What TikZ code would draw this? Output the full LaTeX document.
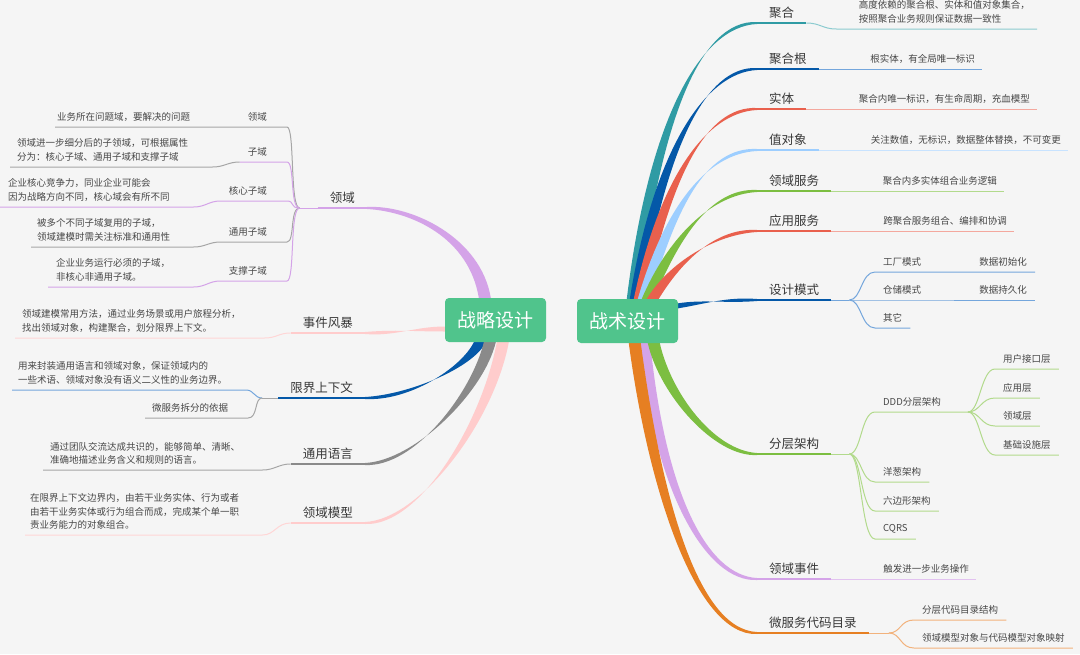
\documentclass[tikz,border=0pt]{standalone}
\usepackage{fontspec}
\newfontfamily\cjk{Noto Sans CJK SC}
\usetikzlibrary{calc}
\pgfdeclarelayer{bg}
\pgfdeclarelayer{branch}
\pgfsetlayers{bg,branch,main}

\definecolor{bgc}{HTML}{F5F5F5}
\definecolor{boxg}{HTML}{50C48C}
\definecolor{labc}{HTML}{383838}
\definecolor{descc}{HTML}{474747}
\definecolor{cTeal}{HTML}{2F9BA4}\definecolor{cTealL}{HTML}{8CCBD0}
\definecolor{cBlue}{HTML}{0458A8}\definecolor{cBlueL}{HTML}{74A6DC}
\definecolor{cRed}{HTML}{E9604D}\definecolor{cRedL}{HTML}{F4A89E}
\definecolor{cLBlue}{HTML}{9DCEFF}\definecolor{cLBlueL}{HTML}{C8E3FF}
\definecolor{cGreen}{HTML}{7CBE41}\definecolor{cGreenL}{HTML}{B2DA8C}
\definecolor{cPurple}{HTML}{D4A3E8}\definecolor{cPurpleL}{HTML}{E2C2F0}
\definecolor{cPink}{HTML}{FFCCCC}\definecolor{cPinkL}{HTML}{FFD6D6}
\definecolor{cGray}{HTML}{8A8A8A}\definecolor{cGrayL}{HTML}{A6A6A6}
\definecolor{cOrange}{HTML}{E67F22}\definecolor{cOrangeL}{HTML}{F2B27C}

% tapered branch: colour, start, c1 (rel. start), c2 (rel. end), end, half-width vector
\newcommand\taper[6]{%
  \fill[#1] ($(#2)+#6$) .. controls +#3 and ($(#5)+#4+(0,-3.5)$) .. ($(#5)+(0,-1)$) --
     ($(#5)+(0,1)$) .. controls ($(#5)+#4+(0,3.5)$) and +#3 .. ($(#2)-#6$) -- cycle;}

\tikzset{
  hub/.style={fill=boxg, rounded corners=4pt, minimum width=101pt, minimum height=44pt,
    text=white, font=\cjk\fontsize{19}{22}\selectfont, inner sep=0pt},
  lab/.style={font=\cjk\fontsize{12.5}{15}\selectfont, text=labc, inner xsep=12pt, inner ysep=4pt},
  desc/.style={font=\cjk\fontsize{9.5}{13.5}\selectfont, text=descc, align=left, inner ysep=5.5pt},
  sub/.style={font=\cjk\fontsize{9.5}{13.5}\selectfont, text=descc, inner xsep=8pt, inner ysep=5.5pt},
  uline/.style={line width=2pt},
  dline/.style={line width=1pt},
}

\begin{document}
\begin{tikzpicture}[x=1pt,y=-1pt]
\useasboundingbox (0,0) rectangle (1080,654);
\begin{pgfonlayer}{bg}
\fill[bgc] (0,0) rectangle (1080,654);
\end{pgfonlayer}

% central nodes
\node[hub] (L) at (495.5,320) {战略设计};
\node[hub] (R) at (627.5,321) {战术设计};

% ---------------- right side ----------------
\node[lab, anchor=south west] (r1) at (757,23) {聚合};
\node[lab, anchor=south west] (r2) at (757,69) {聚合根};
\node[lab, anchor=south west] (r3) at (757,109) {实体};
\node[lab, anchor=south west] (r4) at (757,150) {值对象};
\node[lab, anchor=south west] (r5) at (757,191) {领域服务};
\node[lab, anchor=south west] (r6) at (757,231) {应用服务};
\node[lab, anchor=south west] (r7) at (757,300) {设计模式};
\node[lab, anchor=south west] (r8) at (757,454) {分层架构};
\node[lab, anchor=south west] (r9) at (757,579) {领域事件};
\node[lab, anchor=south west] (r10) at (757,633) {微服务代码目录};

\node[desc, inner xsep=7pt, anchor=south east] (d1) at (1037,29) {高度依赖的聚合根、实体和值对象集合，\\按照聚合业务规则保证数据一致性};
\node[desc, inner xsep=7pt, anchor=south east] (d2) at (982,69) {根实体，有全局唯一标识};
\node[desc, inner xsep=7pt, anchor=south east] (d3) at (1037,109) {聚合内唯一标识，有生命周期，充血模型};
\node[desc, inner xsep=7pt, anchor=south east] (d4) at (1068,150) {关注数值，无标识，数据整体替换，不可变更};
\node[desc, inner xsep=7pt, anchor=south east] (d5) at (1004,191) {聚合内多实体组合业务逻辑};
\node[desc, inner xsep=7pt, anchor=south east] (d6) at (1014,231) {跨聚合服务组合、编排和协调};
\node[desc, inner xsep=7pt, anchor=south east] (d9) at (976,579) {触发进一步业务操作};

% design patterns children
\coordinate (j7) at ($(r7.south east)+(18,0)$);
\node[sub, anchor=south west] (c71) at (875,272) {工厂模式};
\node[sub, anchor=south east] (g71) at (1035,272) {数据初始化};
\node[sub, anchor=south west] (c72) at (875,300) {仓储模式};
\node[sub, anchor=south east] (g72) at (1035,300) {数据持久化};
\node[sub, anchor=south west] (c73) at (875,328) {其它};

% layered architecture children
\coordinate (j8) at ($(r8.south east)+(18,0)$);
\node[sub, anchor=south west] (c81) at (875,412) {DDD分层架构};
\node[sub, anchor=south west] (c82) at (875,482) {洋葱架构};
\node[sub, anchor=south west] (c83) at (875,511) {六边形架构};
\node[sub, anchor=south west] (c84) at (875,539) {CQRS};
\coordinate (j81) at ($(c81.south east)+(19,0)$);
\node[sub, anchor=south west] (g811) at (995,369) {用户接口层};
\node[sub, anchor=south west] (g812) at (995,398) {应用层};
\node[sub, anchor=south west] (g813) at (995,426) {领域层};
\node[sub, anchor=south west] (g814) at (995,455) {基础设施层};

% code directory children
\coordinate (j10) at ($(r10.south east)+(20,0)$);
\node[sub, anchor=south west] (c101) at (914,620) {分层代码目录结构};
\node[sub, anchor=south west] (c102) at (914,648) {领域模型对象与代码模型对象映射};

% ---------------- left side ----------------
\node[lab, anchor=south east] (l1) at (367,208) {领域};
\node[lab, anchor=south east] (l2) at (365,333) {事件风暴};
\node[lab, anchor=south east] (l3) at (365,398) {限界上下文};
\node[lab, anchor=south east] (l4) at (365,464) {通用语言};
\node[lab, anchor=south east] (l5) at (365,523) {领域模型};

\coordinate (j1) at ($(l1.south west)+(-18,0)$);
\node[sub, anchor=south east] (s1) at (275,127) {领域};
\node[sub, anchor=south east] (s2) at (275,162) {子域};
\node[sub, anchor=south east] (s3) at (275,201) {核心子域};
\node[sub, anchor=south east] (s4) at (275,242) {通用子域};
\node[sub, anchor=south east] (s5) at (275,281) {支撑子域};

\node[desc, inner xsep=2pt, anchor=south west] (ds1) at (55,127) {业务所在问题域，要解决的问题};
\node[desc, inner xsep=7pt, anchor=south west] (ds2) at (10,167) {领域进一步细分后的子领域，可根据属性\\分为：核心子域、通用子域和支撑子域};
\node[desc, inner xsep=8pt, anchor=south west] (ds3) at (0,207) {企业核心竞争力，同业企业可能会\\因为战略方向不同，核心域会有所不同};
\node[desc, inner xsep=6pt, anchor=south west] (ds4) at (31,247) {被多个不同子域复用的子域，\\领域建模时需关注标准和通用性};
\node[desc, inner xsep=8pt, anchor=south west] (ds5) at (48,287) {企业业务运行必须的子域，\\非核心非通用子域。};

\node[desc, inner xsep=7pt, anchor=south west] (dl2) at (15,338) {领域建模常用方法，通过业务场景或用户旅程分析，\\找出领域对象，构建聚合，划分限界上下文。};
\coordinate (j3) at ($(l3.south west)+(-16,0)$);
\node[desc, inner xsep=6pt, anchor=south west] (dl31) at (12,390) {用来封装通用语言和领域对象，保证领域内的\\一些术语、领域对象没有语义二义性的业务边界。};
\node[desc, inner xsep=7pt, anchor=south west] (dl32) at (145,418) {微服务拆分的依据};
\node[desc, inner xsep=7pt, anchor=south west] (dl4) at (43,470) {通过团队交流达成共识的，能够简单、清晰、\\准确地描述业务含义和规则的语言。};
\node[desc, inner xsep=5pt, anchor=south west] (dl5) at (25,535) {在限界上下文边界内，由若干业务实体、行为或者\\由若干业务实体或行为组合而成，完成某个单一职\\责业务能力的对象组合。};

% ---------------- branches ----------------
\begin{pgfonlayer}{branch}
% right thick branches
\taper{cTeal}{$(R.north west)+(56,0)$}{(22,-179)}{(-57,0)}{r1.south west}{(6,0)}
\taper{cBlue}{$(R.north west)+(59,0)$}{(24,-149)}{(-52,0)}{r2.south west}{(6,0)}
\taper{cRed}{$(R.north west)+(63,0)$}{(25,-119)}{(-52,0)}{r3.south west}{(6,0)}
\taper{cLBlue}{$(R.north west)+(67,0)$}{(26,-89)}{(-52,0)}{r4.south west}{(6,0)}
\taper{cGreen}{$(R.north west)+(71,0)$}{(25,-59)}{(-47,0)}{r5.south west}{(6,0)}
\taper{cRed}{$(R.north west)+(76,0)$}{(22,-36)}{(-42,0)}{r6.south west}{(6,0)}
\taper{cBlue}{$(R.north east)+(0,7)$}{(25,-4)}{(-30,0)}{r7.south west}{(0,2.5)}
\taper{cPurple}{$(R.south west)+(68,0)$}{(15,150)}{(-50,0)}{r9.south west}{(5.5,0)}
\taper{cOrange}{$(R.south west)+(58,0)$}{(20,150)}{(-60,0)}{r10.south west}{(6,0)}
\taper{cGreen}{$(R.south west)+(77,0)$}{(12,52)}{(-42,0)}{r8.south west}{(6,0)}

% left thick branches
\taper{cPurple}{$(L.north west)+(40,0)$}{(-10,-60)}{(45,0)}{l1.south east}{(6,0)}
\taper{cPink}{$(L.west)+(0,9)$}{(-30,0)}{(30,0)}{l2.south east}{(0,2.5)}
\taper{cBlue}{$(L.south west)+(35,0)$}{(-12,25)}{(45,0)}{l3.south east}{(6,0)}
\taper{cGray}{$(L.south west)+(45,0)$}{(-12,50)}{(50,0)}{l4.south east}{(6,0)}
\taper{cPink}{$(L.south west)+(58,0)$}{(-15,80)}{(55,0)}{l5.south east}{(6,0)}
\end{pgfonlayer}

% right underlines and description lines
\draw[uline, cTeal] (r1.south west) -- (r1.south east);
\draw[dline, cTealL] (r1.south east) .. controls +(14,0) and +(-14,0) .. ($(r1.south east)+(30,6)$) -- (d1.south east);
\draw[uline, cBlue] (r2.south west) -- (r2.south east);
\draw[dline, cBlueL] (r2.south east) -- (d2.south east);
\draw[uline, cRed] (r3.south west) -- (r3.south east);
\draw[dline, cRedL] (r3.south east) -- (d3.south east);
\draw[uline, cLBlue] (r4.south west) -- (r4.south east);
\draw[dline, cLBlueL] (r4.south east) -- (d4.south east);
\draw[uline, cGreen] (r5.south west) -- (r5.south east);
\draw[dline, cGreenL] (r5.south east) -- (d5.south east);
\draw[uline, cRed] (r6.south west) -- (r6.south east);
\draw[dline, cRedL] (r6.south east) -- (d6.south east);
\draw[uline, cPurple] (r9.south west) -- (r9.south east);
\draw[dline, cPurpleL] (r9.south east) -- (d9.south east);

\draw[uline, cBlue] (r7.south west) -- (r7.south east);
\draw[dline, cBlueL] (r7.south east) -- (j7);
\draw[dline, cBlueL] (j7) .. controls +(12,0) and +(-14,0) .. (c71.south west) -- (g71.south east);
\draw[dline, cBlueL] (j7) -- (c72.south west) -- (g72.south east);
\draw[dline, cBlueL] (j7) .. controls +(12,0) and +(-14,0) .. (c73.south west) -- (c73.south east);

\draw[uline, cGreen] (r8.south west) -- (r8.south east);
\draw[dline, cGreenL] (r8.south east) -- (j8);
\draw[dline, cGreenL] (j8) .. controls +(12,0) and +(-14,0) .. (c81.south west) -- (j81);
\draw[dline, cGreenL] (j8) .. controls +(12,0) and +(-14,0) .. (c82.south west) -- (c82.south east);
\draw[dline, cGreenL] (j8) .. controls +(12,0) and +(-14,0) .. (c83.south west) -- (c83.south east);
\draw[dline, cGreenL] (j8) .. controls +(12,0) and +(-14,0) .. (c84.south west) -- (c84.south east);
\draw[dline, cGreenL] (j81) .. controls +(12,0) and +(-14,0) .. (g811.south west) -- (g811.south east);
\draw[dline, cGreenL] (j81) .. controls +(12,0) and +(-14,0) .. (g812.south west) -- (g812.south east);
\draw[dline, cGreenL] (j81) .. controls +(12,0) and +(-14,0) .. (g813.south west) -- (g813.south east);
\draw[dline, cGreenL] (j81) .. controls +(12,0) and +(-14,0) .. (g814.south west) -- (g814.south east);

\draw[uline, cOrange] (r10.south west) -- (r10.south east);
\draw[dline, cOrangeL] (r10.south east) -- (j10);
\draw[dline, cOrangeL] (j10) .. controls +(12,0) and +(-14,0) .. (c101.south west) -- (c101.south east);
\draw[dline, cOrangeL] (j10) .. controls +(12,0) and +(-14,0) .. (c102.south west) -- (c102.south east);

% left underlines and description lines
\draw[uline, cPurple] (l1.south west) -- (l1.south east);
\draw[dline, cPurple] (l1.south west) -- (j1);
\draw[dline, cGrayL] (j1) .. controls +(-10,0) and +(8,0) .. ($(s1.south east)+(12,0)$) -- (ds1.south west);
\draw[dline, cPurple] (j1) .. controls +(-10,0) and +(8,0) .. ($(s2.south east)+(12,0)$) -- (s2.south west);
\draw[dline, cGrayL] (s2.south west) .. controls +(-12,0) and +(12,0) .. ($(s2.south west)+(-27,5)$) -- (ds2.south west);
\draw[dline, cPurple] (j1) .. controls +(-10,0) and +(8,0) .. ($(s3.south east)+(12,0)$) -- (s3.south west)
   .. controls +(-12,0) and +(12,0) .. ($(s3.south west)+(-27,6)$) -- (ds3.south west);
\draw[dline, cGrayL] (j1) .. controls +(-10,0) and +(8,0) .. ($(s4.south east)+(12,0)$) -- (s4.south west)
   .. controls +(-12,0) and +(12,0) .. ($(s4.south west)+(-27,5)$) -- (ds4.south west);
\draw[dline, cPurple] (j1) .. controls +(-10,0) and +(8,0) .. ($(s5.south east)+(12,0)$) -- (s5.south west)
   .. controls +(-12,0) and +(12,0) .. ($(s5.south west)+(-27,6)$) -- (ds5.south west);

\draw[uline, cPink] (l2.south west) -- (l2.south east);
\draw[dline, cPinkL] (l2.south west) .. controls +(-12,0) and +(12,0) .. ($(l2.south west)+(-26,5)$) -- (dl2.south west);

\draw[uline, cBlue] (l3.south west) -- (l3.south east);
\draw[dline, cGrayL] (l3.south west) -- (j3);
\draw[dline, cBlueL] (j3) .. controls +(-8,0) and +(8,0) .. ($(j3)+(-16,-8)$) -- (dl31.south west);
\draw[dline, cGrayL] (j3) .. controls +(-8,0) and +(10,0) .. ($(j3)+(-14,20)$) -- (dl32.south west);

\draw[uline, cGray] (l4.south west) -- (l4.south east);
\draw[dline, cGrayL] (l4.south west) .. controls +(-12,0) and +(12,0) .. ($(l4.south west)+(-28,6)$) -- (dl4.south west);

\draw[uline, cPink] (l5.south west) -- (l5.south east);
\draw[dline, cPinkL] (l5.south west) .. controls +(-14,0) and +(12,0) .. ($(l5.south west)+(-28,12)$) -- (dl5.south west);
\end{tikzpicture}
\end{document}
